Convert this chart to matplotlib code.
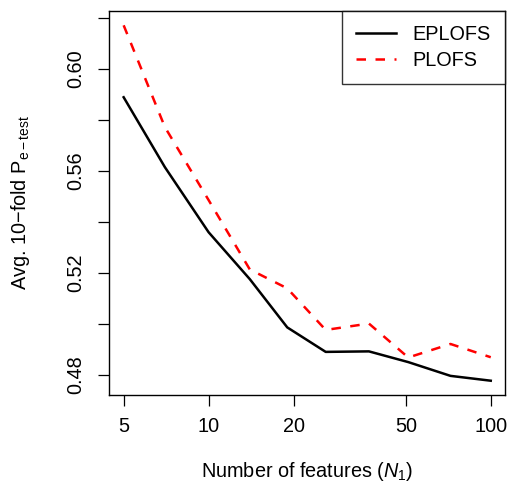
import matplotlib
matplotlib.use("Agg")
import matplotlib.pyplot as plt
from matplotlib.ticker import FixedLocator, NullLocator

plt.rcParams['font.family'] = ['Liberation Sans', 'DejaVu Sans']
plt.rcParams['mathtext.fontset'] = 'custom'
plt.rcParams['mathtext.rm'] = 'Liberation Sans'
plt.rcParams['mathtext.it'] = 'Liberation Sans:italic'
plt.rcParams['mathtext.default'] = 'regular'

n_features = [5, 7, 10, 14, 19, 26, 37, 51, 72, 100]
eplofs = [0.5889, 0.5615, 0.5360, 0.5176, 0.4987, 0.4891, 0.4893, 0.4851, 0.4797, 0.4778]
plofs = [0.6171, 0.5772, 0.5486, 0.5214, 0.5140, 0.4977, 0.5002, 0.4869, 0.4922, 0.4870]

x_ticks = [5, 10, 20, 50, 100]
y_ticks = [0.48, 0.50, 0.52, 0.54, 0.56, 0.58, 0.60, 0.62]
y_tick_labels = ["0.48", "", "0.52", "", "0.56", "", "0.60", ""]

FS = 14.3

fig = plt.figure(figsize=(5.10, 4.87), dpi=100)
ax = fig.add_axes([0.2137, 0.1889, 0.7773, 0.7885])

ax.plot(n_features, eplofs, color='black', lw=1.8, solid_joinstyle='round',
        label='EPLOFS')
ax.plot(n_features, plofs, color='red', lw=1.8, linestyle=(0, (3.8, 3.8)),
        label='PLOFS')

ax.set_xscale('log')
ax.set_xlim(4.436, 112.7)
ax.set_ylim(0.4722, 0.6227)

ax.xaxis.set_major_locator(FixedLocator(x_ticks))
ax.xaxis.set_minor_locator(NullLocator())
ax.set_xticklabels([str(v) for v in x_ticks])
ax.set_yticks(y_ticks)
ax.set_yticklabels(y_tick_labels, rotation=90, va='center')

ax.tick_params(axis='both', direction='out', length=8, width=0.9,
               labelsize=FS, color='black')
ax.tick_params(axis='x', pad=8)
ax.tick_params(axis='y', pad=9)

for s in ax.spines.values():
    s.set_linewidth(1.0)
    s.set_color('black')

ax.set_xlabel("Number of features ($\\mathit{N}_1$)", fontsize=FS, labelpad=17)
ax.set_ylabel("Avg. 10\u2212fold P$_{\\mathrm{e\u2212test}}$", fontsize=FS, labelpad=25)

leg = ax.legend(loc='upper right', fontsize=FS, frameon=True, fancybox=False,
                edgecolor='black', borderpad=0.72, handlelength=2.0,
                handletextpad=0.85, borderaxespad=0, labelspacing=0.32)
leg.get_frame().set_linewidth(1.0)

fig.savefig("out.png", dpi=100)
